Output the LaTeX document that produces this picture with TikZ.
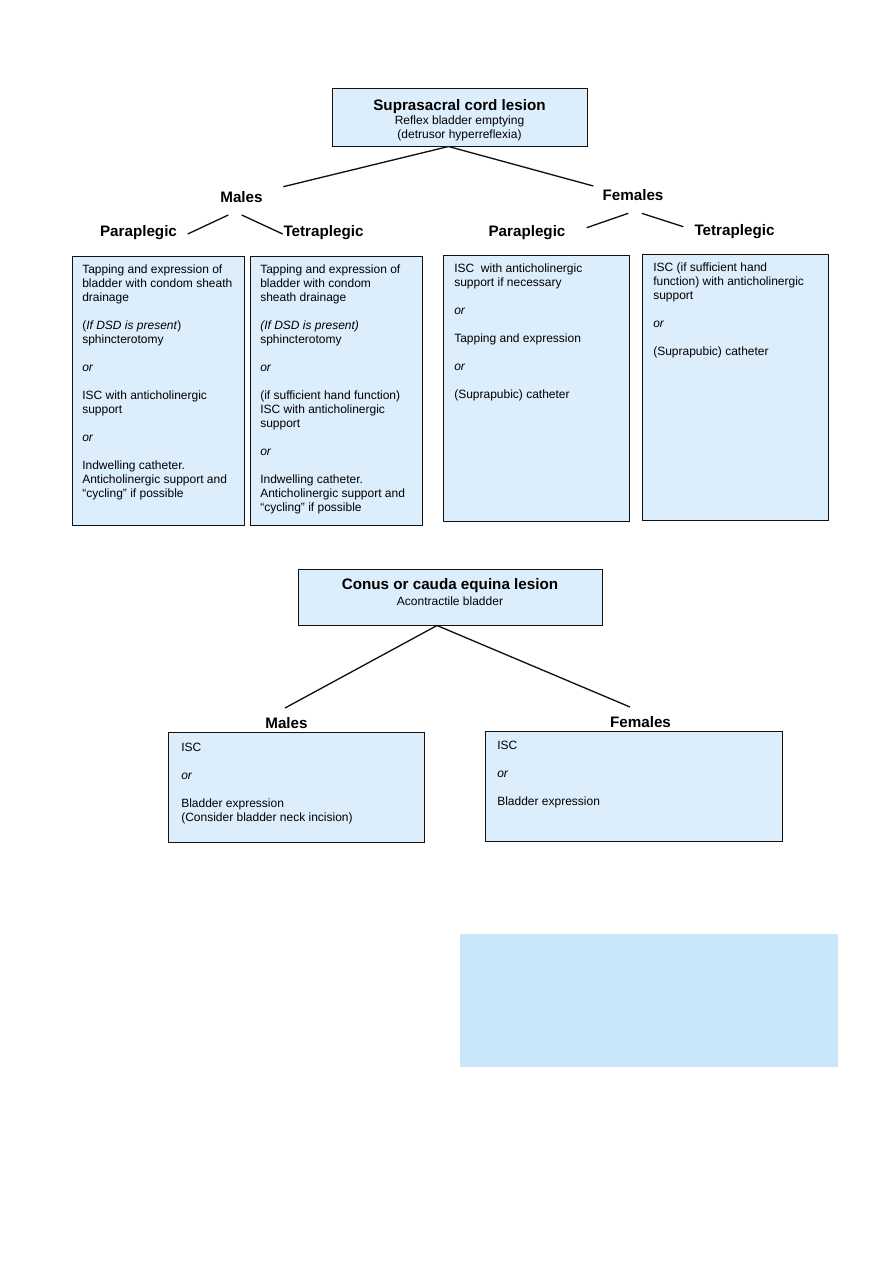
\documentclass[tikz,border=0pt]{standalone}
\usepackage{fontspec}
\setmainfont{Liberation Sans}
\usetikzlibrary{positioning,calc}
\definecolor{cfill}{HTML}{DCEDFB}
\definecolor{cpanel}{HTML}{C9E6F9}
\definecolor{cink}{HTML}{111111}

\begin{document}
\begin{tikzpicture}[x=.75pt, y=-.75pt, every node/.style={font=\fontsize{9}{10.5}\selectfont},
    card/.style={draw=cink, line width=.75pt, fill=cfill, anchor=north west, inner sep=0pt},
    cardtext/.style={anchor=north west, align=left, inner sep=0pt},
    head/.style={font=\fontsize{11.4}{13}\selectfont\bfseries, anchor=base, inner sep=0pt},
    branch/.style={draw=cink, line width=1pt}]
  \useasboundingbox (0,0) rectangle (893,1263);

  % suprasacral lesion
  \node[card, anchor=center, minimum width=191.25pt, minimum height=42.75pt] (sup) at (459.5,117.5) {};
  \node[cardtext, anchor=north, align=center] (suptext) at ([yshift=-7.8pt]sup.north)
    {{\fontsize{11.4}{13}\selectfont\bfseries Suprasacral cord lesion}\\ Reflex bladder emptying\\ (detrusor hyperreflexia)};

  \node[head] (males) at (241.5,202.7) {Males};
  \node[head] (females) at (633,200.7) {Females};
  \node[head] (mpara) at (138.5,236.8) {Paraplegic};
  \node[head] (mtetra) at (323.5,236.8) {Tetraplegic};
  \node[head] (fpara) at (527,236) {Paraplegic};
  \node[head] (ftetra) at (734.5,235.5) {Tetraplegic};

  \coordinate (males end) at (283.3,186.7);
  \coordinate (females end) at (593.3,186);
  \coordinate (mp a) at (228.3,215);  \coordinate (mp b) at (187.7,234);
  \coordinate (mt a) at (241.7,215);  \coordinate (mt b) at (282.7,234);
  \coordinate (fp a) at (628.3,213.3); \coordinate (fp b) at (586.7,227.7);
  \coordinate (ft a) at (641.7,213.3); \coordinate (ft b) at (683.3,226.7);
  \draw[branch] ($(sup.south)+(-11,0)$) -- (males end);
  \draw[branch] ($(sup.south)+(-11,0)$) -- (females end);
  \draw[branch] (mp a) -- (mp b);
  \draw[branch] (mt a) -- (mt b);
  \draw[branch] (fp a) -- (fp b);
  \draw[branch] (ft a) -- (ft b);

  % options per group
  \node[card, minimum width=129pt, minimum height=201.75pt] (mpbox) at (71.5,256) {};
  \node[cardtext] (mptext) at ([shift={(10.5,8.7)}]mpbox.north west)
    {Tapping and expression of\\ bladder with condom sheath\\ drainage\\[10.5pt]
     (\textit{If DSD is present})\\ sphincterotomy\\[10.5pt] \textit{or}\\[10.5pt]
     ISC with anticholinergic\\ support\\[10.5pt] \textit{or}\\[10.5pt]
     Indwelling catheter.\\ Anticholinergic support and\\ “cycling” if possible};

  \node[card, minimum width=129pt, minimum height=201.75pt] (mtbox) at (250,256) {};
  \node[cardtext] (mttext) at ([shift={(10,8.7)}]mtbox.north west)
    {Tapping and expression of\\ bladder with condom\\ sheath drainage\\[10.5pt]
     \textit{(If DSD is present)}\\ sphincterotomy\\[10.5pt] \textit{or}\\[10.5pt]
     (if sufficient hand function)\\ ISC with anticholinergic\\ support\\[10.5pt] \textit{or}\\[10.5pt]
     Indwelling catheter.\\ Anticholinergic support and\\ “cycling” if possible};

  \node[card, minimum width=139.5pt, minimum height=199.5pt] (fpbox) at (443,255) {};
  \node[cardtext] (fptext) at ([shift={(11,8.7)}]fpbox.north west)
    {ISC\ \ with anticholinergic\\ support if necessary\\[10.5pt] \textit{or}\\[10.5pt]
     Tapping and expression\\[10.5pt] \textit{or}\\[10.5pt] (Suprapubic) catheter};

  \node[card, minimum width=139.5pt, minimum height=199.5pt] (ftbox) at (642,254) {};
  \node[cardtext] (fttext) at ([shift={(11,8.7)}]ftbox.north west)
    {ISC (if sufficient hand\\ function) with anticholinergic\\ support\\[10.5pt]
     \textit{or}\\[10.5pt] (Suprapubic) catheter};

  % conus / cauda equina lesion
  \node[card, anchor=center, minimum width=228pt, minimum height=42pt] (con) at (450,597) {};
  \node[cardtext, anchor=north, align=center] (context) at ([yshift=-7.1pt]con.north)
    {{\fontsize{11.4}{13}\selectfont\bfseries Conus or cauda equina lesion}\\[1.5pt] Acontractile bladder};

  \node[head] (cmales) at (286.5,728) {Males};
  \node[head] (cfemales) at (640.5,727.3) {Females};
  \coordinate (cmales end) at (285,708);
  \coordinate (cfemales end) at (630,707);
  \draw[branch] ($(con.south)+(-13,0)$) -- (cmales end);
  \draw[branch] ($(con.south)+(-13,0)$) -- (cfemales end);

  \node[card, minimum width=192pt, minimum height=82.5pt] (cmbox) at (168,732) {};
  \node[cardtext] (cmtext) at ([shift={(13,10.7)}]cmbox.north west)
    {ISC\\[10.5pt] \textit{or}\\[10.5pt] Bladder expression\\ (Consider bladder neck incision)};

  \node[card, minimum width=222.75pt, minimum height=82.5pt] (cfbox) at (485,731) {};
  \node[cardtext] (cftext) at ([shift={(12,9.7)}]cfbox.north west)
    {ISC\\[10.5pt] \textit{or}\\[10.5pt] Bladder expression};

  \node[anchor=north west, fill=cpanel, inner sep=0pt, minimum width=283.5pt, minimum height=99.75pt] (panel) at (460,934) {};
\end{tikzpicture}
\end{document}
